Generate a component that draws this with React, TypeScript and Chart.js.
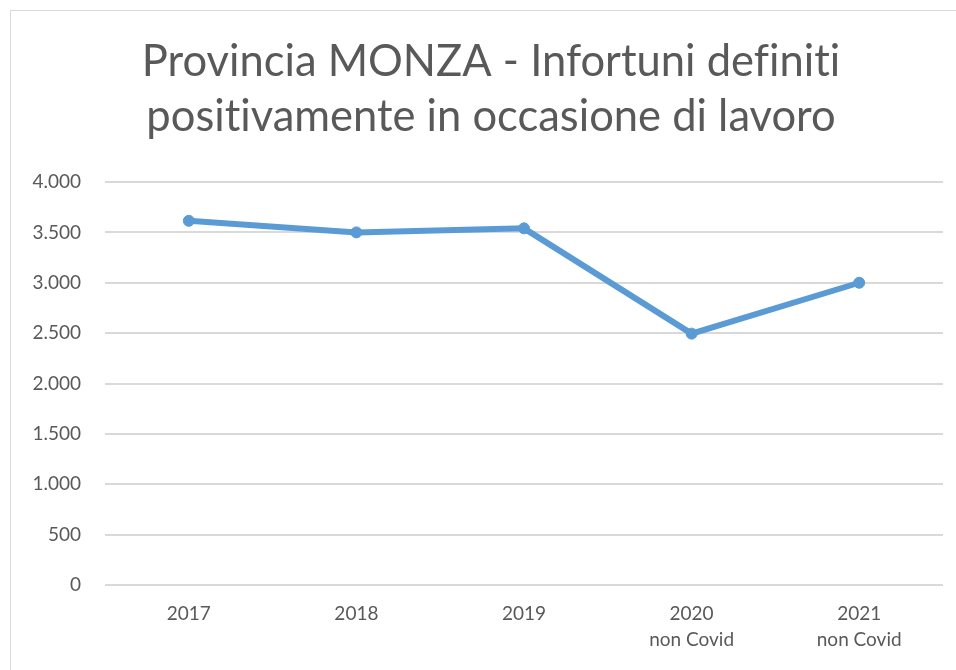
import React, { useEffect, useRef } from "react";
import { Chart, registerables } from "chart.js";

Chart.register(...registerables);

const categories: (string | string[])[] = ["2017", "2018", "2019", ["2020", "non Covid"], ["2021", "non Covid"]];
const infortuni: number[] = [3615, 3500, 3540, 2495, 3000];
const titleLines: string[] = ["Provincia MONZA - Infortuni definiti", "positivamente in occasione di lavoro"];
const yMin = 0;
const yMax = 4000;
const yStep = 500;

function fmt(v: number): string {
  const s = Math.round(v).toString();
  return s.replace(/\B(?=(\d{3})+(?!\d))/g, ".");
}

// break typographic ligatures (ti, fi) so the title looks like the reference
function noLig(s: string): string {
  return s.replace(/([tf])(?=i)/g, "$1\u200C");
}

const titlePlugin = {
  id: "twoLineTitle",
  afterDraw(chart: any) {
    const ctx = chart.ctx;
    ctx.save();
    ctx.font = "normal 43.5px Lato";
    ctx.fillStyle = "#595959";
    ctx.textAlign = "center";
    ctx.textBaseline = "alphabetic";
    const cx = 491;
    const baselines = [76, 131];
    titleLines.forEach((t, i) => ctx.fillText(noLig(t), cx, baselines[i]));
    ctx.restore();
  },
};

export default function App() {
  const ref = useRef<HTMLCanvasElement | null>(null);

  useEffect(() => {
    document.body.style.margin = "0";
    document.body.style.overflow = "hidden";
    const cv = ref.current;
    if (!cv) return;
    const c2d: any = cv.getContext("2d");
    if (c2d) c2d.letterSpacing = "0.3px";
    const chart = new Chart(cv, {
      type: "line",
      data: {
        labels: categories,
        datasets: [
          {
            label: "Infortuni",
            data: infortuni,
            borderColor: "#5B9BD5",
            backgroundColor: "#5B9BD5",
            borderWidth: 6,
            pointRadius: 5.5,
            pointBorderWidth: 1,
            pointBackgroundColor: "#5B9BD5",
            pointBorderColor: "#5B9BD5",
            tension: 0,
          },
        ],
      },
      plugins: [titlePlugin],
      options: {
        animation: false,
        responsive: false,
        maintainAspectRatio: false,
        layout: { padding: { left: 10, right: 13, top: 182, bottom: 0 } },
        plugins: {
          legend: { display: false },
          tooltip: { enabled: false },
          title: { display: false },
        },
        scales: {
          x: {
            offset: true,
            grid: { display: false, drawTicks: false },
            border: { display: false },
            ticks: {
              color: "#595959",
              font: { family: "Lato", size: 19, lineHeight: 26 / 19 },
              padding: 16,
              maxRotation: 0,
              autoSkip: false,
            },
            afterFit: (s: any) => {
              s.height = 85;
            },
          },
          y: {
            min: yMin,
            max: yMax,
            grid: { color: "#d9d9d9", lineWidth: 2, drawTicks: false },
            border: { display: false },
            ticks: {
              stepSize: yStep,
              color: "#595959",
              font: { family: "Lato", size: 19 },
              padding: 24,
              callback: (v: any) => fmt(Number(v)),
            },
            afterFit: (s: any) => {
              s.width = 95;
            },
          },
        },
      },
    });
    return () => chart.destroy();
  }, []);

  return (
    <div style={{ position: "fixed", left: 0, top: 0, width: 956, height: 670, overflow: "hidden", background: "#ffffff" }}>
      <div
        style={{
          position: "absolute",
          left: 10,
          top: 10,
          width: 2000,
          height: 2000,
          border: "1px solid #d9d9d9",
          boxSizing: "border-box",
        }}
      />
      <canvas ref={ref} width={956} height={670} style={{ position: "absolute", left: 0, top: 0, width: 956, height: 670 }} />
    </div>
  );
}
